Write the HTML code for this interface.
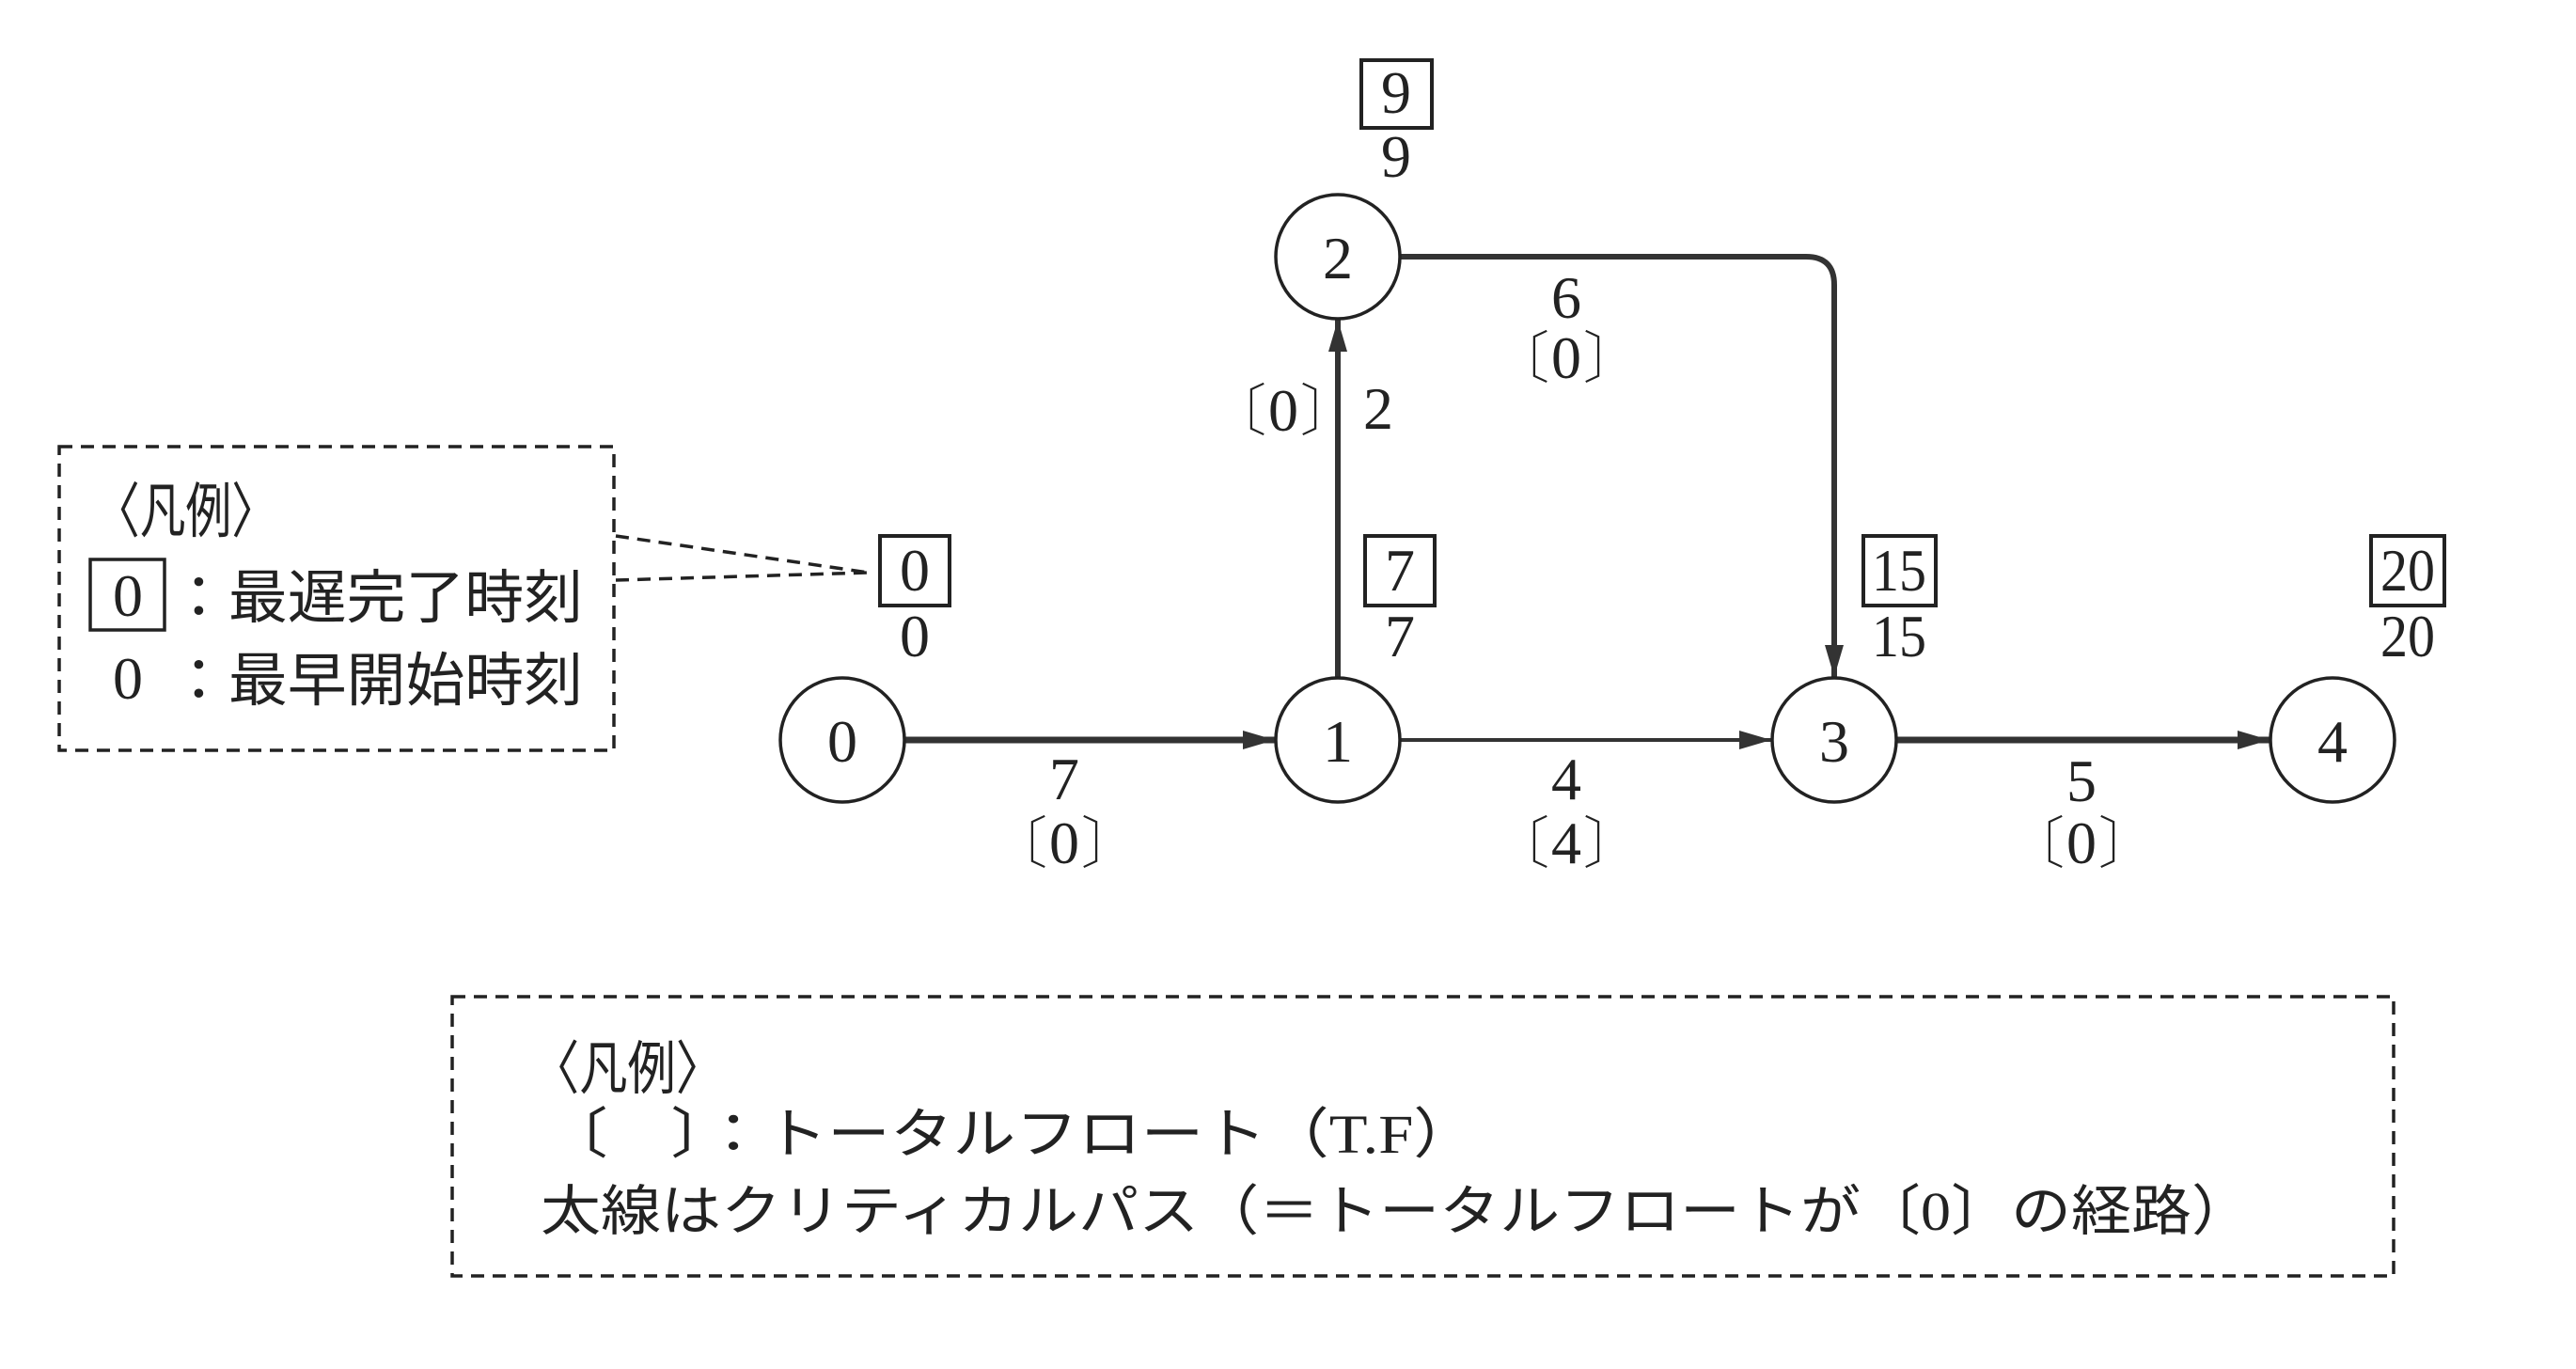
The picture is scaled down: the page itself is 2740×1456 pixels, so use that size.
<!DOCTYPE html>
<html><head><meta charset="utf-8"><style>
html,body{margin:0;padding:0;background:#fff;}
svg{display:block;}
.d{font-family:"Liberation Serif","Noto Serif CJK SC",serif;font-size:64px;fill:#222;}
.j{font-family:"Liberation Serif","Noto Sans CJK JP",sans-serif;font-size:58px;fill:#222;}
.bk{font-family:"Noto Serif CJK SC","Liberation Serif",serif;font-size:60px;fill:#222;}
</style></head><body>
<svg width="2740" height="1456" viewBox="0 0 2740 1456" xmlns="http://www.w3.org/2000/svg">
<defs>
<marker id="a" markerWidth="34" markerHeight="20" refX="34" refY="10" orient="auto" markerUnits="userSpaceOnUse"><path d="M0,0 L34,10 L0,20 z" fill="#333"/></marker>
</defs>
<g stroke="#333" fill="none">
<line x1="963" y1="787" x2="1356" y2="787" stroke-width="7" marker-end="url(#a)"/>
<line x1="1490" y1="787" x2="1884" y2="787" stroke-width="4" marker-end="url(#a)"/>
<line x1="2018" y1="787" x2="2414" y2="787" stroke-width="7" marker-end="url(#a)"/>
<line x1="1423" y1="720" x2="1423" y2="340" stroke-width="6" marker-end="url(#a)"/>
<path d="M1490,273 L1921,273 Q1951,273 1951,303 L1951,720" stroke-width="6" marker-end="url(#a)"/>
</g>
<g stroke="#222" stroke-width="3.5" fill="#fff">
<circle cx="896" cy="787" r="66"/>
<circle cx="1423" cy="787" r="66"/>
<circle cx="1423" cy="273" r="66"/>
<circle cx="1951" cy="787" r="66"/>
<circle cx="2481" cy="787" r="66"/>
</g>
<g class="d" text-anchor="middle">
<text x="896" y="810">0</text>
<text x="1423" y="810">1</text>
<text x="1423" y="296">2</text>
<text x="1951" y="810">3</text>
<text x="2481" y="810">4</text>
</g>
<g stroke="#222" stroke-width="4" fill="none">
<rect x="936" y="570" width="74" height="74"/>
<rect x="1452" y="570" width="74" height="74"/>
<rect x="1448" y="64" width="75" height="72"/>
<rect x="1982" y="570" width="77" height="74"/>
<rect x="2522" y="570" width="78" height="74"/>
</g>
<g class="d" text-anchor="middle" font-size="60">
<text x="973" y="628">0</text><text x="973" y="698">0</text>
<text x="1489" y="628">7</text><text x="1489" y="698">7</text>
<text x="1485" y="120">9</text><text x="1485" y="188">9</text>
<text x="2020" y="628" textLength="58" lengthAdjust="spacingAndGlyphs">15</text><text x="2020" y="698" textLength="58" lengthAdjust="spacingAndGlyphs">15</text>
<text x="2561" y="628" textLength="58" lengthAdjust="spacingAndGlyphs">20</text><text x="2561" y="698" textLength="58" lengthAdjust="spacingAndGlyphs">20</text>
<text x="1132" y="850">7</text>
<text x="1132" y="918">0</text>
<text x="1666" y="850">4</text>
<text x="1666" y="918">4</text>
<text x="2214" y="852">5</text>
<text x="2214" y="918">0</text>
<text x="1666" y="338">6</text>
<text x="1666" y="402">0</text>
<text x="1365" y="458">0</text>
<text x="1466" y="456">2</text>
</g>
<g class="bk">
<text x="1114" y="918" text-anchor="end">〔</text><text x="1150" y="918">〕</text>
<text x="1648" y="918" text-anchor="end">〔</text><text x="1684" y="918">〕</text>
<text x="2196" y="918" text-anchor="end">〔</text><text x="2232" y="918">〕</text>
<text x="1648" y="402" text-anchor="end">〔</text><text x="1684" y="402">〕</text>
<text x="1347" y="458" text-anchor="end">〔</text><text x="1383" y="458">〕</text>
</g>
<g stroke="#222" stroke-width="3.5" fill="none" stroke-dasharray="14,9">
<rect x="63" y="475" width="590" height="323"/>
<rect x="481" y="1060" width="2065" height="297"/>
<line x1="655" y1="570" x2="924" y2="609"/>
<line x1="655" y1="617" x2="924" y2="609"/>
</g>
<rect x="96" y="595" width="79" height="75" stroke="#222" stroke-width="3.5" fill="none"/>
<g class="j">
<text x="100" y="566" font-size="64" textLength="195" lengthAdjust="spacingAndGlyphs">〈凡例〉</text>
<text x="136" y="655" class="d" font-size="60" text-anchor="middle">0</text>
<text x="180" y="657" font-size="62" textLength="440" lengthAdjust="spacingAndGlyphs">：最遅完了時刻</text>
<text x="136" y="743" class="d" font-size="60" text-anchor="middle">0</text>
<text x="180" y="745" font-size="62" textLength="440" lengthAdjust="spacingAndGlyphs">：最早開始時刻</text>
<text x="565" y="1158" font-size="62" textLength="205" lengthAdjust="spacingAndGlyphs">〈凡例〉</text>
<text x="580" y="1226" textLength="990" lengthAdjust="spacingAndGlyphs">〔　〕：トータルフロート（T.F）</text>
<text x="575" y="1308" textLength="1820" lengthAdjust="spacingAndGlyphs">太線はクリティカルパス（＝トータルフロートが〔0〕の経路）</text>
</g>
</svg>
</body></html>
